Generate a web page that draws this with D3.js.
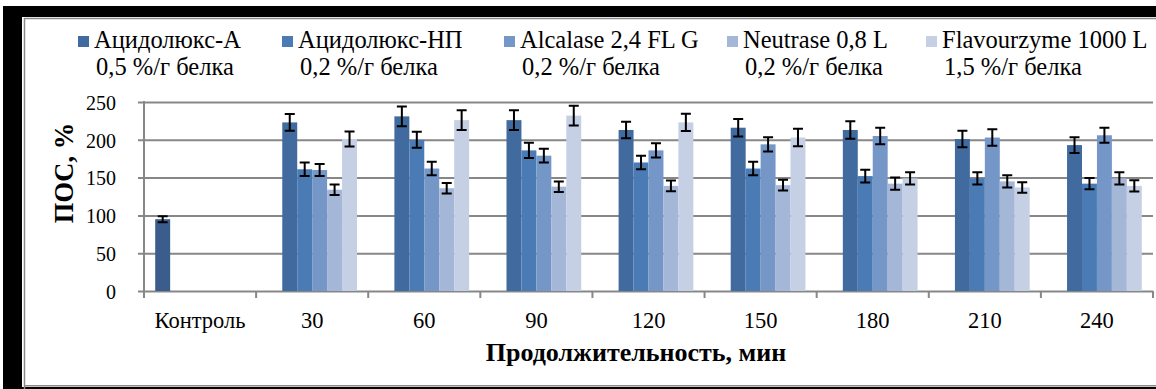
<!DOCTYPE html>
<html>
<head>
<meta charset="utf-8">
<script src="https://cdn.jsdelivr.net/npm/d3@7"></script>
<style>
  html, body { margin: 0; padding: 0; background: #fff; }
  svg { display: block; }
</style>
</head>
<body>
<svg id="chart" width="1156" height="389" font-family="Liberation Serif"></svg>
<script>
// Categories along the x axis (duration of hydrolysis)
const categories = ["Контроль", "30", "60", "90", "120", "150", "180", "210", "240"];

// Series: control + five enzyme preparations
const seriesNames = ["Контроль", "Ацидолюкс-А", "Ацидолюкс-НП", "Alcalase 2,4 FL G", "Neutrase 0,8 L", "Flavourzyme 1000 L"];
const seriesDoses = ["", "0,5 %/г белка", "0,2 %/г белка", "0,2 %/г белка", "0,2 %/г белка", "1,5 %/г белка"];
const seriesColors = ["#3b5d8c", "#416b9e", "#4a7bb5", "#7597c8", "#a5b7d7", "#c5d0e5"];
const inLegend = [false, true, true, true, true, true];

// ПОС, % values per series (null = no bar)
const valControl   = [95, null, null, null, null, null, null, null, null];
const valAcidA     = [null, 223, 231, 226, 213, 216, 213, 201, 193];
const valAcidNP    = [null, 161, 200, 186, 170, 162, 152, 149, 142];
const valAlcalase  = [null, 160, 162, 179, 186, 194, 205, 203, 206];
const valNeutrase  = [null, 134, 136, 138, 139, 140, 142, 145, 149];
const valFlavour   = [null, 201, 226, 232, 223, 203, 149, 137, 139];

// Error bar half-widths
const errControl   = [4, null, null, null, null, null, null, null, null];
const errAcidA     = [null, 11, 13, 13, 11, 11.5, 11.5, 11, 10.5];
const errAcidNP    = [null, 9, 10.5, 10, 9, 9, 8.5, 8, 7.5];
const errAlcalase  = [null, 8, 9, 9, 9.5, 9.5, 11, 11, 10];
const errNeutrase  = [null, 7, 7, 7, 7, 7, 8, 8, 8];
const errFlavour   = [null, 10, 13, 13, 11.5, 11.5, 8, 7, 7.5];

const yTicks = [0, 50, 100, 150, 200, 250];
const yTitle = "ПОС, %";
const xTitle = "Продолжительность, мин";

const values = [valControl, valAcidA, valAcidNP, valAlcalase, valNeutrase, valFlavour];
const errors = [errControl, errAcidA, errAcidNP, errAlcalase, errNeutrase, errFlavour];

const FONT = "Liberation Serif";
const svg = d3.select("#chart");
const W = 1156, H = 389;

// Frame: black surround with an inner grey border
svg.append("rect").attr("x", 3).attr("y", 6).attr("width", W).attr("height", H).attr("fill", "#000");
svg.append("rect").attr("x", 22).attr("y", 17).attr("width", W).attr("height", 370).attr("fill", "#fff");
svg.append("path")
  .attr("d", `M24.5,${H} V18.5 H${W}`)
  .attr("fill", "none").attr("stroke", "#8a8a8a").attr("stroke-width", 1.5);
svg.append("line").attr("x1", 24).attr("x2", W).attr("y1", 385.7).attr("y2", 385.7)
  .attr("stroke", "#8a8a8a").attr("stroke-width", 1.5);

const plot = { left: 144, right: 1153, top: 102, bottom: 291 };

const x0 = d3.scaleBand().domain(categories).range([plot.left, plot.right])
  .paddingInner(0.2).paddingOuter(0.1);
const x1 = d3.scaleBand().domain(seriesNames).range([0, x0.bandwidth()]);
const y = d3.scaleLinear().domain([0, 250]).range([plot.bottom, plot.top]);

const gridColor = "#878787";

// Horizontal gridlines with y tick labels
const yAxis = svg.append("g")
  .attr("transform", `translate(${plot.left},0)`)
  .call(d3.axisLeft(y).tickValues(yTicks).tickSize(-(plot.right - plot.left)).tickSizeOuter(0).tickPadding(0));
yAxis.attr("font-family", FONT).attr("font-size", 20);
yAxis.select(".domain").remove();
yAxis.selectAll(".tick line").attr("stroke", gridColor).attr("stroke-width", 2)
  .attr("x1", -6).attr("x2", plot.right - plot.left);
yAxis.selectAll(".tick text")
  .attr("x", -28).attr("dy", "0.36em").attr("fill", "#000");

// Vertical axis line
svg.append("line").attr("x1", plot.left).attr("x2", plot.left)
  .attr("y1", plot.top - 1).attr("y2", plot.bottom + 7)
  .attr("stroke", gridColor).attr("stroke-width", 2);

// Category boundary ticks on x axis
const boundaries = d3.range(categories.length + 1).map(i => plot.left + i * x0.step());
svg.append("g").selectAll("line").data(boundaries).join("line")
  .attr("x1", d => d).attr("x2", d => d)
  .attr("y1", plot.bottom).attr("y2", plot.bottom + 7)
  .attr("stroke", gridColor).attr("stroke-width", 2);

// Category labels
svg.append("g").attr("font-family", FONT).attr("font-size", 22.5)
  .selectAll("text").data(categories).join("text")
  .attr("x", d => x0(d) + x0.bandwidth() / 2)
  .attr("y", 328)
  .attr("text-anchor", "middle")
  .text(d => d);

// Bars
const barData = [];
values.forEach((arr, si) => arr.forEach((v, ci) => {
  if (v != null) barData.push({ s: si, c: ci, v, e: errors[si][ci] });
}));

svg.append("g").selectAll("rect").data(barData).join("rect")
  .attr("x", d => x0(categories[d.c]) + x1(seriesNames[d.s]))
  .attr("width", x1.bandwidth())
  .attr("y", d => y(d.v))
  .attr("height", d => y(0) - y(d.v))
  .attr("fill", d => seriesColors[d.s]);

// Error bars
const capHalf = 5;
const eb = svg.append("g").attr("stroke", "#000").attr("stroke-width", 2).attr("fill", "none");
eb.selectAll("path").data(barData.filter(d => d.e != null)).join("path")
  .attr("d", d => {
    const cx = x0(categories[d.c]) + x1(seriesNames[d.s]) + x1.bandwidth() / 2;
    const t = y(d.v + d.e), b = y(d.v - d.e);
    return `M${cx - capHalf},${t} H${cx + capHalf} M${cx},${t} V${b} M${cx - capHalf},${b} H${cx + capHalf}`;
  });

// Axis titles
svg.append("text")
  .attr("transform", "translate(73,173) rotate(-90)")
  .attr("text-anchor", "middle")
  .attr("font-family", FONT).attr("font-size", 26.5).attr("font-weight", "bold")
  .text(yTitle);

svg.append("text")
  .attr("x", 636).attr("y", 361)
  .attr("text-anchor", "middle")
  .attr("font-family", FONT).attr("font-size", 26).attr("font-weight", "bold")
  .text(xTitle);

// Legend (two-line entries)
const legendX = [78, 282, 504, 727, 926];
const legendIdx = seriesNames.map((n, i) => i).filter(i => inLegend[i]);
const lg = svg.append("g").attr("font-family", FONT).attr("font-size", 24.5)
  .selectAll("g").data(legendIdx).join("g")
  .attr("transform", (d, i) => `translate(${legendX[i]},0)`);
lg.append("rect").attr("x", 0).attr("y", 36).attr("width", 11).attr("height", 11)
  .attr("fill", d => seriesColors[d]);
lg.append("text").attr("x", 16).attr("y", 48).text(d => seriesNames[d]);
lg.append("text").attr("x", 18).attr("y", 75).text(d => seriesDoses[d]);
</script>
</body>
</html>
